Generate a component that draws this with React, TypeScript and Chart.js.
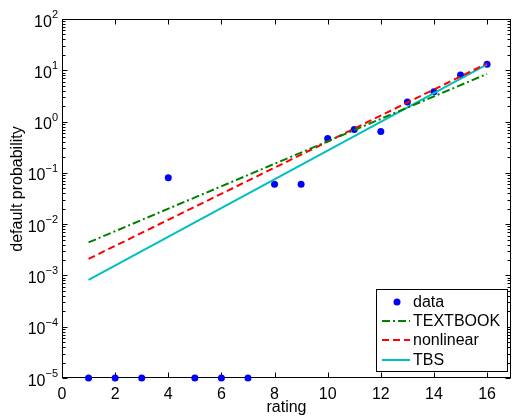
import { useEffect, useRef } from "react";
import { Chart, registerables } from "chart.js";

Chart.register(...registerables);

// Observed default rates per rating class (classes 1-3, 5-7 sit at the axis floor)
const ratings = [1, 2, 3, 4, 5, 6, 7, 8, 9, 10, 11, 12, 13, 14, 15, 16];
const defaultRates = [1e-5, 1e-5, 1e-5, 0.08, 1e-5, 1e-5, 1e-5, 0.06, 0.06, 0.47, 0.7, 0.64, 2.4, 3.8, 8.1, 13.1];

// Fitted curves, evaluated at the ends of the rating range
const fitRatings = [1, 16];
const textbookFit = [0.0044, 8.5];
const nonlinearFit = [0.0021, 13.6];
const tbsFit = [0.00082, 13.0];

const xTicks = [0, 2, 4, 6, 8, 10, 12, 14, 16];
const yExponents = [-5, -4, -3, -2, -1, 0, 1, 2];

const FONT = '"Liberation Sans", Arial, Helvetica, sans-serif';

const series = [
  { label: "data", kind: "point", color: "#0000ff", dash: [] as number[] },
  { label: "TEXTBOOK", kind: "line", color: "#008000", dash: [8, 3, 2, 3] },
  { label: "nonlinear", kind: "line", color: "#ff0000", dash: [7, 4] },
  { label: "TBS", kind: "line", color: "#00bfbf", dash: [] as number[] },
];

const toPoints = (xs: number[], ys: number[]) => xs.map((x, i) => ({ x, y: ys[i] }));

const framePlugin = {
  id: "frame",
  beforeDatasetsDraw(chart: any) {
    const { ctx, chartArea: a, scales } = chart;
    const xs = scales.x;
    const ys = scales.y;
    const L = Math.round(a.left) + 0.5;
    const R = Math.round(a.right) - 0.5;
    const T = Math.round(a.top) + 0.5;
    const B = Math.round(a.bottom) - 0.5;
    ctx.save();
    ctx.strokeStyle = "#000";
    ctx.lineWidth = 1;
    ctx.strokeRect(L, T, R - L, B - T);
    ctx.beginPath();
    for (const v of xTicks) {
      const px = Math.round(xs.getPixelForValue(v)) + 0.5;
      ctx.moveTo(px, B);
      ctx.lineTo(px, B - 5);
      ctx.moveTo(px, T);
      ctx.lineTo(px, T + 5);
    }
    for (const e of yExponents) {
      for (let k = 1; k <= 9; k++) {
        if (e === yExponents[yExponents.length - 1] && k > 1) break;
        const py = Math.round(ys.getPixelForValue(k * Math.pow(10, e))) + 0.5;
        const len = k === 1 ? 5 : 3;
        ctx.moveTo(L, py);
        ctx.lineTo(L + len, py);
        ctx.moveTo(R, py);
        ctx.lineTo(R - len, py);
      }
    }
    ctx.stroke();

    // tick labels
    ctx.fillStyle = "#000";
    ctx.font = `16px ${FONT}`;
    ctx.textAlign = "center";
    ctx.textBaseline = "alphabetic";
    for (const v of xTicks) {
      ctx.fillText(String(v), xs.getPixelForValue(v), 398.5);
    }
    for (const e of yExponents) {
      const py = ys.getPixelForValue(Math.pow(10, e));
      const expText = e < 0 ? "\u2212" + Math.abs(e) : String(e);
      ctx.font = `16px ${FONT}`;
      const wBase = ctx.measureText("10").width;
      ctx.font = `11px ${FONT}`;
      const wExp = ctx.measureText(expText).width;
      const start = 58 - wBase - wExp;
      ctx.textAlign = "left";
      ctx.font = `16px ${FONT}`;
      ctx.fillText("10", start, py + 7.5);
      ctx.font = `11px ${FONT}`;
      ctx.fillText(expText, start + wBase, py - 1);
    }

    // axis titles
    ctx.font = `16px ${FONT}`;
    ctx.textAlign = "center";
    ctx.fillText("rating", (a.left + a.right) / 2, 412);
    ctx.save();
    ctx.translate(18, 189);
    ctx.rotate(-Math.PI / 2);
    ctx.textBaseline = "middle";
    ctx.fillText("default probability", 0, 0);
    ctx.restore();
    ctx.restore();
  },
  afterDraw(chart: any) {
    const { ctx } = chart;
    ctx.save();
    ctx.fillStyle = "#fff";
    ctx.fillRect(376, 289, 131, 82);
    ctx.strokeStyle = "#000";
    ctx.lineWidth = 1;
    ctx.strokeRect(376.5, 289.5, 131, 82);
    const rows = [302, 321, 340, 360];
    series.forEach((s, i) => {
      const y = rows[i];
      if (s.kind === "point") {
        ctx.fillStyle = s.color;
        ctx.beginPath();
        ctx.arc(397, y, 3.5, 0, Math.PI * 2);
        ctx.fill();
      } else {
        ctx.strokeStyle = s.color;
        ctx.lineWidth = 2;
        ctx.setLineDash(s.dash);
        ctx.beginPath();
        ctx.moveTo(382, y);
        ctx.lineTo(410, y);
        ctx.stroke();
        ctx.setLineDash([]);
      }
      ctx.fillStyle = "#000";
      ctx.font = `16px ${FONT}`;
      ctx.textAlign = "left";
      ctx.textBaseline = "middle";
      ctx.fillText(s.label, 413, y + 1);
    });
    ctx.restore();
  },
};

export default function App() {
  const canvasRef = useRef<HTMLCanvasElement | null>(null);

  useEffect(() => {
    const canvas = canvasRef.current;
    if (!canvas) return;
    const lineSet = (i: number, ys: number[]) => ({
      label: series[i].label,
      data: toPoints(fitRatings, ys),
      showLine: true,
      borderColor: series[i].color,
      backgroundColor: series[i].color,
      borderWidth: 2,
      borderDash: series[i].dash,
      pointRadius: 0,
      pointHoverRadius: 0,
    });
    const chart = new Chart(canvas, {
      type: "scatter",
      data: {
        datasets: [
          lineSet(1, textbookFit),
          lineSet(2, nonlinearFit),
          lineSet(3, tbsFit),
          {
            label: series[0].label,
            data: toPoints(ratings, defaultRates),
            showLine: false,
            backgroundColor: series[0].color,
            borderColor: series[0].color,
            pointRadius: 3.5,
            pointBorderWidth: 0,
            clip: false,
          } as any,
        ],
      },
      options: {
        animation: false,
        responsive: true,
        maintainAspectRatio: false,
        layout: { padding: { top: 19, right: 1, left: 0, bottom: 0 } },
        plugins: { legend: { display: false }, tooltip: { enabled: false } },
        events: [],
        scales: {
          x: {
            type: "linear",
            min: 0,
            max: 16.9,
            grid: { display: false },
            border: { display: false },
            ticks: { display: false },
            afterFit: (s: any) => {
              s.height = 38;
            },
          },
          y: {
            type: "logarithmic",
            min: 1e-5,
            max: 100,
            grid: { display: false },
            border: { display: false },
            ticks: { display: false },
            afterFit: (s: any) => {
              s.width = 62;
            },
          },
        },
      },
      plugins: [framePlugin],
    });
    return () => chart.destroy();
  }, []);

  return (
    <div style={{ position: "fixed", left: 0, top: 0, width: 515, height: 416, background: "#fff" }}>
      <canvas ref={canvasRef} />
    </div>
  );
}
